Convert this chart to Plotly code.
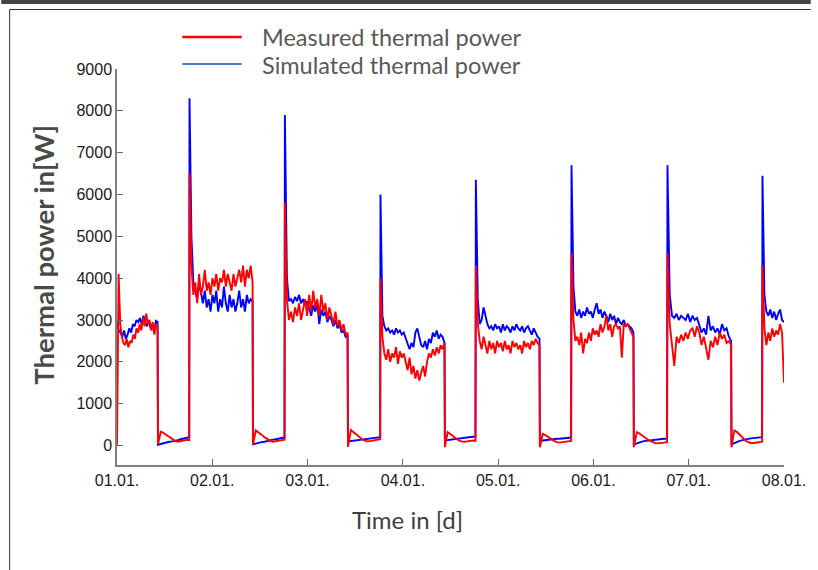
import numpy as np
import plotly.graph_objects as go

# ---------------- data (W) ----------------
# segment boundaries in days since 01.01. (day blocks and night blocks alternate)
seg_bounds = [
    (0.000, 0.426), (0.430, 0.758),
    (0.761, 1.423), (1.427, 1.758),
    (1.762, 2.420), (2.424, 2.762),
    (2.765, 3.437), (3.441, 3.762),
    (3.766, 4.434), (4.438, 4.766),
    (4.770, 5.420), (5.424, 5.773),
    (5.777, 6.445), (6.449, 6.770),
    (6.774, 7.000),
]

measured_segments = [
    [0, 4100, 2900, 2600, 2450, 2400, 2550, 2350, 2500, 2450, 2650, 2550, 2800, 2700, 2900, 2750, 3050, 2850, 3150, 2900, 3000, 2750, 2950, 2650, 2900, 2850],
    [30, 330, 300, 250, 200, 150, 110, 90, 110, 120, 130, 130],
    [6500, 4300, 3600, 3900, 3400, 4100, 3600, 3800, 4200, 3700, 3900, 3600, 4000, 3800, 4100, 3700, 4000, 3900, 4200, 3800, 4100, 3900, 3700, 4100, 3800, 4000, 4200, 3900, 4300, 3800, 4200, 4000, 4300, 3900],
    [20, 360, 320, 260, 200, 150, 110, 90, 100, 120, 130, 140],
    [5800, 3500, 3000, 3200, 2950, 3300, 3100, 3400, 3000, 3250, 3500, 3100, 3600, 3200, 3700, 3300, 3500, 3100, 3600, 3200, 3400, 3000, 3300, 3100, 2900, 3200, 2850, 3000, 2750, 2900, 2650, 2700],
    [-30, 370, 320, 260, 200, 140, 110, 100, 110, 130, 140, 150],
    [4000, 2600, 2200, 2050, 2300, 2000, 2200, 2100, 2350, 1950, 2250, 2100, 2200, 2000, 1800, 2100, 1700, 1900, 1600, 1800, 1550, 1750, 1900, 1650, 2000, 2200, 2100, 2300, 2150, 2350, 2200, 2400, 2300, 2450],
    [-40, 320, 280, 220, 170, 120, 100, 90, 100, 110, 120, 110],
    [4300, 2900, 2500, 2300, 2600, 2400, 2200, 2500, 2300, 2450, 2200, 2500, 2350, 2450, 2250, 2500, 2300, 2400, 2200, 2500, 2350, 2450, 2300, 2400, 2200, 2500, 2350, 2450, 2300, 2500, 2400, 2550, 2450, 2400],
    [-40, 280, 250, 200, 150, 110, 80, 70, 80, 90, 100, 110],
    [4600, 3000, 2500, 2600, 2400, 2700, 2200, 2550, 2450, 2700, 2500, 2800, 2650, 2750, 2600, 2900, 2700, 2850, 3100, 2750, 2900, 2600, 2850, 2900, 2800, 2850, 2100, 2900, 2850, 2900, 2800, 2700, 2600],
    [-40, 320, 280, 220, 160, 120, 90, 60, 50, 60, 70, 80],
    [4600, 2900, 2400, 1900, 2600, 2450, 2650, 2500, 2700, 2550, 2750, 2800, 2600, 2850, 2700, 2400, 2600, 2300, 2050, 2500, 2350, 2600, 2400, 2700, 2550, 2650, 2450, 2500, 2400],
    [-40, 360, 320, 250, 180, 120, 80, 60, 60, 70, 80, 90],
    [4300, 2800, 2400, 2700, 2500, 2800, 2600, 2750, 2650, 2900, 2700, 1500],
]

simulated_segments = [
    [2950, 2750, 2700, 2600, 2750, 2550, 2650, 2800, 2700, 2900, 2850, 3000, 2950, 3050, 2900, 3100, 2950, 2850, 3000, 2800, 2900, 2700, 2980, 2950],
    [20, 40, 60, 70, 90, 100, 110, 130, 150, 170, 190, 200],
    [8300, 5000, 3900, 3700, 3500, 3900, 3600, 3400, 3700, 3300, 3500, 3200, 3600, 3400, 3700, 3200, 3500, 3300, 3800, 3400, 3200, 3600, 3300, 3500, 3200, 3400, 3700, 3300, 3500, 3200, 3600, 3400, 3500, 3450],
    [30, 50, 60, 80, 90, 110, 120, 140, 150, 170, 180, 190],
    [7900, 4000, 3450, 3500, 3400, 3550, 3450, 3600, 3400, 3500, 3350, 3450, 3300, 3100, 3350, 3200, 3400, 2900, 3250, 3100, 3200, 2950, 3100, 3000, 2850, 3000, 2800, 2900, 2700, 2750, 2600, 2650],
    [100, 110, 120, 130, 140, 150, 160, 170, 180, 190, 200, 200],
    [6000, 3100, 2850, 2750, 2800, 2700, 2750, 2650, 2800, 2700, 2750, 2650, 2700, 2550, 2450, 2300, 2450, 2350, 2700, 2800, 2600, 2400, 2350, 2500, 2300, 2550, 2450, 2700, 2600, 2750, 2550, 2650, 2600, 2450],
    [120, 130, 140, 140, 150, 160, 170, 180, 190, 200, 210, 210],
    [6350, 3500, 2900, 3000, 3300, 3100, 2900, 2800, 2850, 2750, 2900, 2800, 2850, 2700, 2900, 2750, 2850, 2800, 2700, 2850, 2750, 2900, 2800, 2750, 2850, 2700, 2800, 2850, 2750, 2650, 2800, 2700, 2600, 2550],
    [100, 120, 130, 130, 140, 150, 160, 160, 170, 180, 190, 190],
    [6700, 3800, 3200, 3100, 3250, 3050, 3200, 3100, 3300, 3150, 3200, 3050, 3250, 3400, 3150, 3250, 3050, 3200, 3100, 2950, 3150, 3000, 3100, 2900, 3050, 2950, 2900, 3000, 2850, 2900, 2850, 2800, 2700],
    [20, 50, 80, 100, 110, 120, 130, 140, 150, 150, 160, 160],
    [6700, 3600, 3100, 3050, 3150, 3000, 3100, 3050, 3000, 3150, 2950, 3100, 3000, 3050, 2900, 2700, 2800, 2650, 3100, 2750, 2850, 2700, 2800, 2650, 2900, 2750, 2800, 2600, 2500],
    [20, 60, 90, 110, 130, 150, 160, 170, 180, 190, 200, 200],
    [6450, 3600, 3200, 3100, 3250, 3050, 3200, 3000, 3150, 3250, 3000, 2950],
]

tick_days = [0, 1, 2, 3, 4, 5, 6, 7]
tick_labels = ["01.01.", "02.01.", "03.01.", "04.01.", "05.01.", "06.01.", "07.01.", "08.01."]
y_ticks = [0, 1000, 2000, 3000, 4000, 5000, 6000, 7000, 8000, 9000]


def build(segments):
    t, v = [], []
    for (a, b), vals in zip(seg_bounds, segments):
        t.extend(np.linspace(a, b, len(vals)).tolist())
        v.extend(vals)
    return t, v


t_meas, v_meas = build(measured_segments)
t_sim, v_sim = build(simulated_segments)

# ---------------- layout geometry ----------------
W, H = 818, 570
L, R, T, B = 117, 791, 69, 465
PW, PH = R - L, B - T


def px(x):
    return (x - L) / PW


def py(y):
    return (B - y) / PH


fig = go.Figure()
fig.add_trace(go.Scatter(x=t_sim, y=v_sim, mode="lines", name="Simulated thermal power",
                         line=dict(color="#0000ff", width=1.9), showlegend=False))
fig.add_trace(go.Scatter(x=t_meas, y=v_meas, mode="lines", name="Measured thermal power",
                         line=dict(color="#ff0000", width=1.9), showlegend=False))

tick_font = dict(family="Liberation Sans, Arial", size=16, color="#1a1a1a")
fig.update_layout(
    width=W, height=H,
    margin=dict(l=L, r=W - R, t=T, b=H - B, pad=0),
    paper_bgcolor="white", plot_bgcolor="white",
    xaxis=dict(range=[0, 7], tickvals=tick_days, ticktext=tick_labels,
               ticks="inside", ticklen=6, tickwidth=1, tickcolor="#666666",
               showline=True, linecolor="#808080", linewidth=1.5,
               showgrid=False, zeroline=False, tickfont=tick_font),
    yaxis=dict(range=[-466, 9000], tickvals=y_ticks,
               ticks="inside", ticklen=6, tickwidth=1, tickcolor="#666666",
               showline=True, linecolor="#808080", linewidth=1.5,
               showgrid=False, zeroline=False, tickfont=tick_font),
)

shapes = [
    # outer frame
    dict(type="rect", xref="paper", yref="paper", x0=px(0), x1=px(W), y0=py(4), y1=py(0),
         fillcolor="#444444", line=dict(width=0)),
    dict(type="line", xref="paper", yref="paper", x0=px(8.5), x1=px(8.5), y0=py(9.5), y1=py(H),
         line=dict(color="#333333", width=1)),
    dict(type="line", xref="paper", yref="paper", x0=px(8.5), x1=px(W), y0=py(9.5), y1=py(9.5),
         line=dict(color="#333333", width=1)),
    # legend keys
    dict(type="line", xref="paper", yref="paper", x0=px(183), x1=px(243), y0=py(37), y1=py(37),
         line=dict(color="#ff0000", width=2.5)),
    dict(type="line", xref="paper", yref="paper", x0=px(183), x1=px(243), y0=py(64), y1=py(64),
         line=dict(color="#4a7bd0", width=2)),
]

label_font = dict(family="Lato, Open Sans", size=23.5, color="#595959")
annotations = [
    dict(text="Measured thermal power", xref="paper", yref="paper", x=px(262), y=py(37),
         xanchor="left", yanchor="middle", showarrow=False, font=label_font),
    dict(text="Simulated thermal power", xref="paper", yref="paper", x=px(262), y=py(65),
         xanchor="left", yanchor="middle", showarrow=False, font=label_font),
    dict(text="Time in [d]", xref="paper", yref="paper", x=px(411), y=py(519),
         xanchor="center", yanchor="middle", showarrow=False,
         font=dict(family="Lato, Open Sans", size=24, color="#404040")),
    dict(text="<b>Thermal power in[W]</b>", xref="paper", yref="paper", x=px(42), y=py(255),
         xanchor="center", yanchor="middle", showarrow=False, textangle=-90,
         font=dict(family="Lato, Open Sans", size=27.5, color="#4a4a4a")),
]
fig.update_layout(shapes=shapes, annotations=annotations)

fig.write_html("out.html")
